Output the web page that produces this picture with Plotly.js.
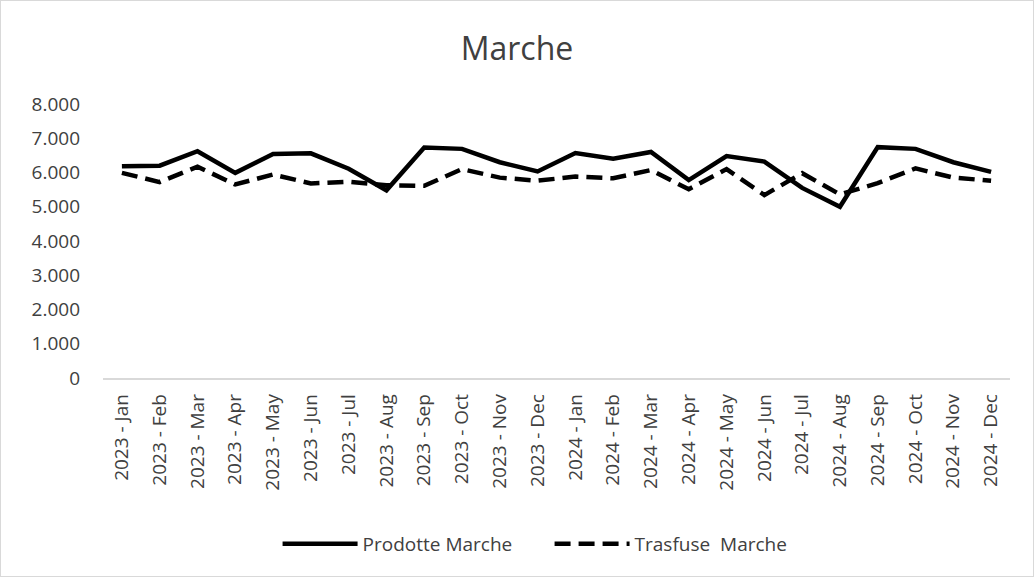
<!DOCTYPE html>
<html>
<head>
<meta charset="utf-8">
<script src="https://cdn.plot.ly/plotly-3.0.1.min.js"></script>
<style>
  body { margin: 0; background: #fff; }
  #chart { width: 1034px; height: 577px; box-sizing: border-box; border: 1px solid #d9d9d9; }
</style>
</head>
<body>
<div id="chart"></div>
<script>
// months, two years
const months = ['Jan', 'Feb', 'Mar', 'Apr', 'May', 'Jun', 'Jul', 'Aug', 'Sep', 'Oct', 'Nov', 'Dec'];
const years = ['2023', '2024'];
const categories = [];
years.forEach(y => months.forEach(m => categories.push(y + ' - ' + m)));

// values
const prodotte = [6180, 6200, 6620, 5990, 6540, 6560, 6110, 5480, 6730, 6690, 6300, 6030,
                  6570, 6400, 6600, 5780, 6480, 6320, 5550, 5000, 6740, 6690, 6300, 6020];
const trasfuse = [5990, 5720, 6170, 5650, 5940, 5680, 5730, 5630, 5610, 6100, 5850, 5760,
                  5880, 5830, 6070, 5510, 6100, 5340, 5980, 5360, 5690, 6120, 5850, 5760];

const yTicks = [0, 1000, 2000, 3000, 4000, 5000, 6000, 7000, 8000];

const data = [
  {
    x: categories, y: prodotte, type: 'scatter', mode: 'lines',
    name: 'Prodotte Marche',
    line: { color: '#000000', width: 4.5 }
  },
  {
    x: categories, y: trasfuse, type: 'scatter', mode: 'lines',
    name: 'Trasfuse  Marche',
    line: { color: '#000000', width: 4.5, dash: '16px,8px' }
  }
];

const layout = {
  width: 1032,
  height: 575,
  separators: ',.',
  font: { family: '"Open Sans", sans-serif', color: '#404040', size: 19 },
  title: {
    text: 'Marche', font: { size: 32, color: '#404040' },
    x: 0.5, xref: 'container', xanchor: 'center',
    y: 0.917, yref: 'container', yanchor: 'middle'
  },
  margin: { l: 102, r: 23, t: 103, b: 198 },
  showlegend: true,
  legend: {
    orientation: 'h', x: 0.268, xref: 'container', xanchor: 'left',
    y: 0.056, yref: 'container', yanchor: 'middle',
    itemwidth: 75, entrywidth: 182,
    font: { size: 19, color: '#404040' }
  },
  xaxis: {
    type: 'category',
    range: [-0.5, categories.length - 0.5],
    tickangle: -90,
    showgrid: false,
    showline: true,
    linecolor: '#d9d9d9',
    linewidth: 1.5,
    ticks: '',
    ticklabelstandoff: 7,
    tickfont: { size: 19, color: '#404040' }
  },
  yaxis: {
    range: [0, 8000],
    tickvals: yTicks,
    tickformat: ',d',
    showgrid: false,
    zeroline: false,
    showline: false,
    ticks: '',
    ticklabelstandoff: 22,
    tickfont: { size: 19, color: '#404040' }
  },
  plot_bgcolor: '#ffffff',
  paper_bgcolor: '#ffffff'
};

Plotly.newPlot('chart', data, layout, { displayModeBar: false, staticPlot: true });
</script>
</body>
</html>
